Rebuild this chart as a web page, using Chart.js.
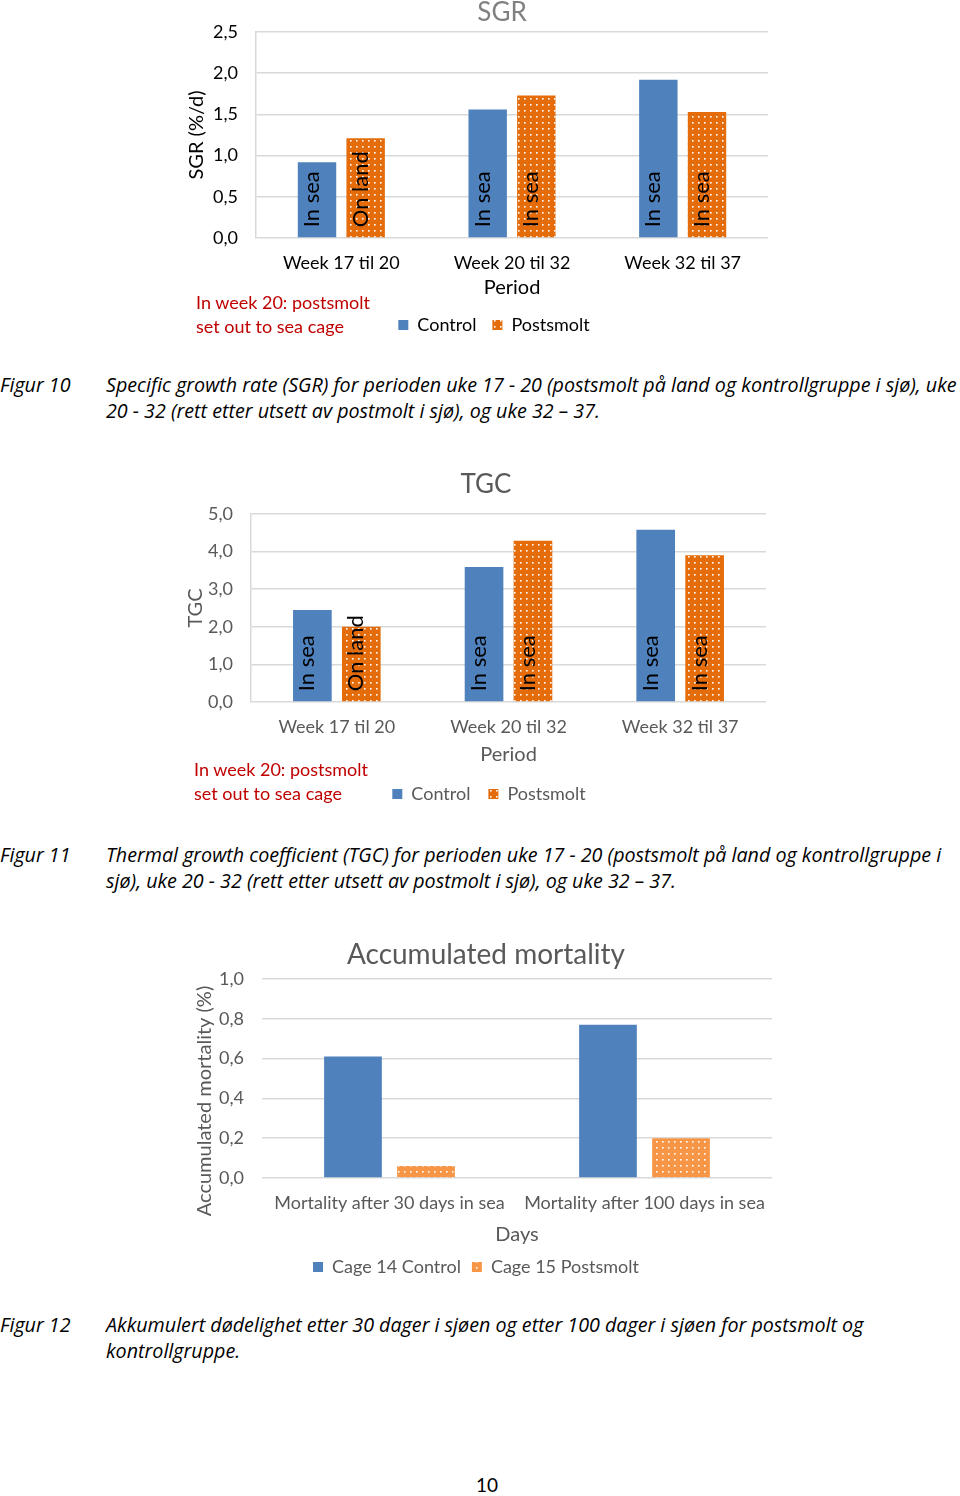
<!DOCTYPE html>
<html>
<head>
<meta charset="utf-8">
<script src="https://cdn.jsdelivr.net/npm/chart.js@4.4.1/dist/chart.umd.min.js"></script>
<style>
    body { margin: 0; background: #fff; width: 960px; height: 1496px; position: relative; overflow: hidden; font-family: Lato, "Open Sans", sans-serif; }
    canvas { position: absolute; }
    .merknad { position: absolute; color: #c00000; font-size: 18px; line-height: 24px; white-space: nowrap; }
    .figur { position: absolute; left: 0; font-family: "Open Sans", sans-serif; font-style: italic; font-size: 19.7px; line-height: 26px; white-space: nowrap; }
    .tekst { position: absolute; left: 106px; font-family: "Open Sans", sans-serif; font-style: italic; font-size: 19.7px; line-height: 26px; white-space: nowrap; }
    .side { position: absolute; left: 476px; top: 1473px; font-size: 19px; }
</style>
</head>
<body>

<canvas id="grafSGR" width="628" height="344" style="left:180px;top:0px"></canvas>
<div class="merknad" style="left:196px;top:290px">In week 20: postsmolt<br>set out to sea cage</div>
<div class="figur" style="top:372px">Figur 10</div>
<div class="tekst" style="top:372px">Specific growth rate (SGR) for perioden uke 17 - 20 (postsmolt på land og kontrollgruppe i sjø), uke<br>20 - 32 (rett etter utsett av postmolt i sjø), og uke 32 – 37.</div>

<canvas id="grafTGC" width="622" height="343" style="left:176px;top:470px"></canvas>
<div class="merknad" style="left:194px;top:757px">In week 20: postsmolt<br>set out to sea cage</div>
<div class="figur" style="top:842px">Figur 11</div>
<div class="tekst" style="top:842px">Thermal growth coefficient (TGC) for perioden uke 17 - 20 (postsmolt på land og kontrollgruppe i<br>sjø), uke 20 - 32 (rett etter utsett av postmolt i sjø), og uke 32 – 37.</div>

<canvas id="grafDod" width="593" height="351" style="left:180px;top:935px"></canvas>
<div class="figur" style="top:1312px">Figur 12</div>
<div class="tekst" style="top:1312px">Akkumulert dødelighet etter 30 dager i sjøen og etter 100 dager i sjøen for postsmolt og<br>kontrollgruppe.</div>

<div class="side">10</div>

<script>
// verdier lest av figurene
var perioder = ["Week 17 til 20", "Week 20 til 32", "Week 32 til 37"];
var sgrControl = [0.92, 1.56, 1.92];
var sgrPostsmolt = [1.21, 1.73, 1.53];
var tgcControl = [2.45, 3.59, 4.58];
var tgcPostsmolt = [2.0, 4.29, 3.9];
var stedControl = ["In sea", "In sea", "In sea"];
var stedPostsmolt = ["On land", "In sea", "In sea"];
var dager = ["Mortality after 30 days in sea", "Mortality after 100 days in sea"];
var dodControl = [0.61, 0.77];
var dodPostsmolt = [0.06, 0.20];

var BLA = "#4f81bd";
var GRA = "#595959";
var FONT = "Lato";

function prikker(farge) {
    var c = document.createElement("canvas");
    c.width = 6;
    c.height = 6;
    var g = c.getContext("2d");
    g.fillStyle = farge;
    g.fillRect(0, 0, 6, 6);
    g.fillStyle = "#ffffff";
    g.fillRect(2, 2, 1.6, 1.6);
    return g.createPattern(c, "repeat");
}

function komma(v) {
    return v.toFixed(1).replace(".", ",");
}

// skriver "In sea" / "On land" loddrett inne i søylene
var tekstISoyler = {
    id: "tekstISoyler",
    afterDatasetsDraw: function (chart) {
        var ctx = chart.ctx;
        chart.data.datasets.forEach(function (ds, i) {
            if (!ds.tekster) return;
            chart.getDatasetMeta(i).data.forEach(function (bar, j) {
                ctx.save();
                ctx.translate(bar.x + 2, bar.base - 10);
                ctx.rotate(-Math.PI / 2);
                ctx.font = "22px " + FONT;
                ctx.fillStyle = "#000";
                ctx.textAlign = "left";
                ctx.textBaseline = "alphabetic";
                ctx.fillText(ds.tekster[j], 0, 0);
                ctx.restore();
            });
        });
    }
};

// flytter tittel og forklaring litt sidelengs, som i Excel-figuren
var flyttBokser = {
    id: "flyttBokser",
    afterLayout: function (chart, args, opts) {
        if (chart.legend) {
            chart.legend.left += opts.legend;
            chart.legend.right += opts.legend;
        }
        if (chart.titleBlock) {
            chart.titleBlock.left += opts.tittel;
            chart.titleBlock.right += opts.tittel;
        }
    }
};

function lagGraf(id, oppsett) {
    var ctx = document.getElementById(id).getContext("2d");
    return new Chart(ctx, {
        type: "bar",
        plugins: [tekstISoyler, flyttBokser],
        data: {
            labels: oppsett.labels,
            datasets: oppsett.datasets
        },
        options: {
            responsive: false,
            animation: false,
            layout: { padding: { left: 0, right: oppsett.hoyrePadding, top: 0, bottom: 0 } },
            datasets: {
                bar: { categoryPercentage: oppsett.cp, barPercentage: 0.79 }
            },
            plugins: {
                title: {
                    display: true,
                    text: oppsett.tittel,
                    color: oppsett.tittelFarge,
                    font: { family: FONT, size: oppsett.tittelStr, lineHeight: 1, weight: "normal" },
                    padding: oppsett.tittelPadding
                },
                legend: {
                    position: "bottom",
                    labels: {
                        boxWidth: 10,
                        boxHeight: 10,
                        color: oppsett.tekstFarge,
                        font: { family: FONT, size: 18 },
                        padding: oppsett.legendPadding
                    }
                },
                flyttBokser: oppsett.flytt,
                tooltip: { enabled: false }
            },
            scales: {
                x: {
                    grid: { display: false },
                    border: { display: false },
                    ticks: { color: oppsett.tekstFarge, font: { family: FONT, size: 18 }, padding: 6 },
                    title: {
                        display: true,
                        text: oppsett.xTittel,
                        color: oppsett.tekstFarge,
                        font: { family: FONT, size: 20 },
                        padding: 0
                    },
                    afterFit: function (s) { s.height = oppsett.xHoyde; }
                },
                y: {
                    min: 0,
                    max: oppsett.maks,
                    grid: { color: "#d9d9d9", lineWidth: 1.5, drawTicks: false },
                    border: { display: oppsett.kantlinje, color: "#d9d9d9", width: 1.5 },
                    ticks: {
                        stepSize: oppsett.steg,
                        color: oppsett.tekstFarge,
                        font: { family: FONT, size: 18 },
                        padding: 18,
                        callback: function (v) { return komma(v); }
                    },
                    title: {
                        display: true,
                        text: oppsett.yTittel,
                        color: oppsett.yTittelFarge,
                        font: { family: FONT, size: oppsett.yTittelStr },
                        padding: { top: oppsett.yTittelPad, bottom: 0 }
                    },
                    afterFit: function (s) { s.width = oppsett.yBredde; }
                }
            }
        }
    });
}

document.addEventListener("DOMContentLoaded", function () {

    lagGraf("grafSGR", {
        labels: perioder,
        datasets: [
            { label: "Control", data: sgrControl, backgroundColor: BLA, tekster: stedControl },
            { label: "Postsmolt", data: sgrPostsmolt, backgroundColor: prikker("#e46c0a"), tekster: stedPostsmolt }
        ],
        tittel: "SGR", tittelFarge: "#808080", tittelStr: 26,
        tittelPadding: { top: 0, bottom: 6 },
        tekstFarge: "#000", yTittelFarge: "#000",
        xTittel: "Period", yTittel: "SGR (%/d)", yTittelStr: 20, yTittelPad: 5,
        maks: 2.5, steg: 0.5, cp: 0.57, kantlinje: true,
        yBredde: 76, xHoyde: 62, hoyrePadding: 40, legendPadding: 16,
        flytt: { legend: 20, tittel: 28 }
    });

    lagGraf("grafTGC", {
        labels: perioder,
        datasets: [
            { label: "Control", data: tgcControl, backgroundColor: BLA, tekster: stedControl },
            { label: "Postsmolt", data: tgcPostsmolt, backgroundColor: prikker("#e46c0a"), tekster: stedPostsmolt }
        ],
        tittel: "TGC", tittelFarge: GRA, tittelStr: 26,
        tittelPadding: { top: 2, bottom: 16 },
        tekstFarge: GRA, yTittelFarge: GRA,
        xTittel: "Period", yTittel: "TGC", yTittelStr: 20, yTittelPad: 8,
        maks: 5, steg: 1, cp: 0.57, kantlinje: true,
        yBredde: 75, xHoyde: 65, hoyrePadding: 32, legendPadding: 18,
        flytt: { legend: 18, tittel: 15 }
    });

    lagGraf("grafDod", {
        labels: dager,
        datasets: [
            { label: "Cage 14 Control", data: dodControl, backgroundColor: BLA },
            { label: "Cage 15 Postsmolt", data: dodPostsmolt, backgroundColor: prikker("#f79646") }
        ],
        tittel: "Accumulated mortality", tittelFarge: GRA, tittelStr: 28,
        tittelPadding: { top: 6, bottom: 10 },
        tekstFarge: GRA, yTittelFarge: GRA,
        // ekstra mellomrom til slutt skyver tittelen nedover som i originalen
        xTittel: "Days", yTittel: "Accumulated mortality (%)\u2003\u2003\u2003", yTittelStr: 20, yTittelPad: 13,
        maks: 1, steg: 0.2, cp: 0.573, kantlinje: false,
        yBredde: 82, xHoyde: 69, hoyrePadding: 1, legendPadding: 11,
        flytt: { legend: 0, tittel: 10 }
    });
});
</script>
</body>
</html>
